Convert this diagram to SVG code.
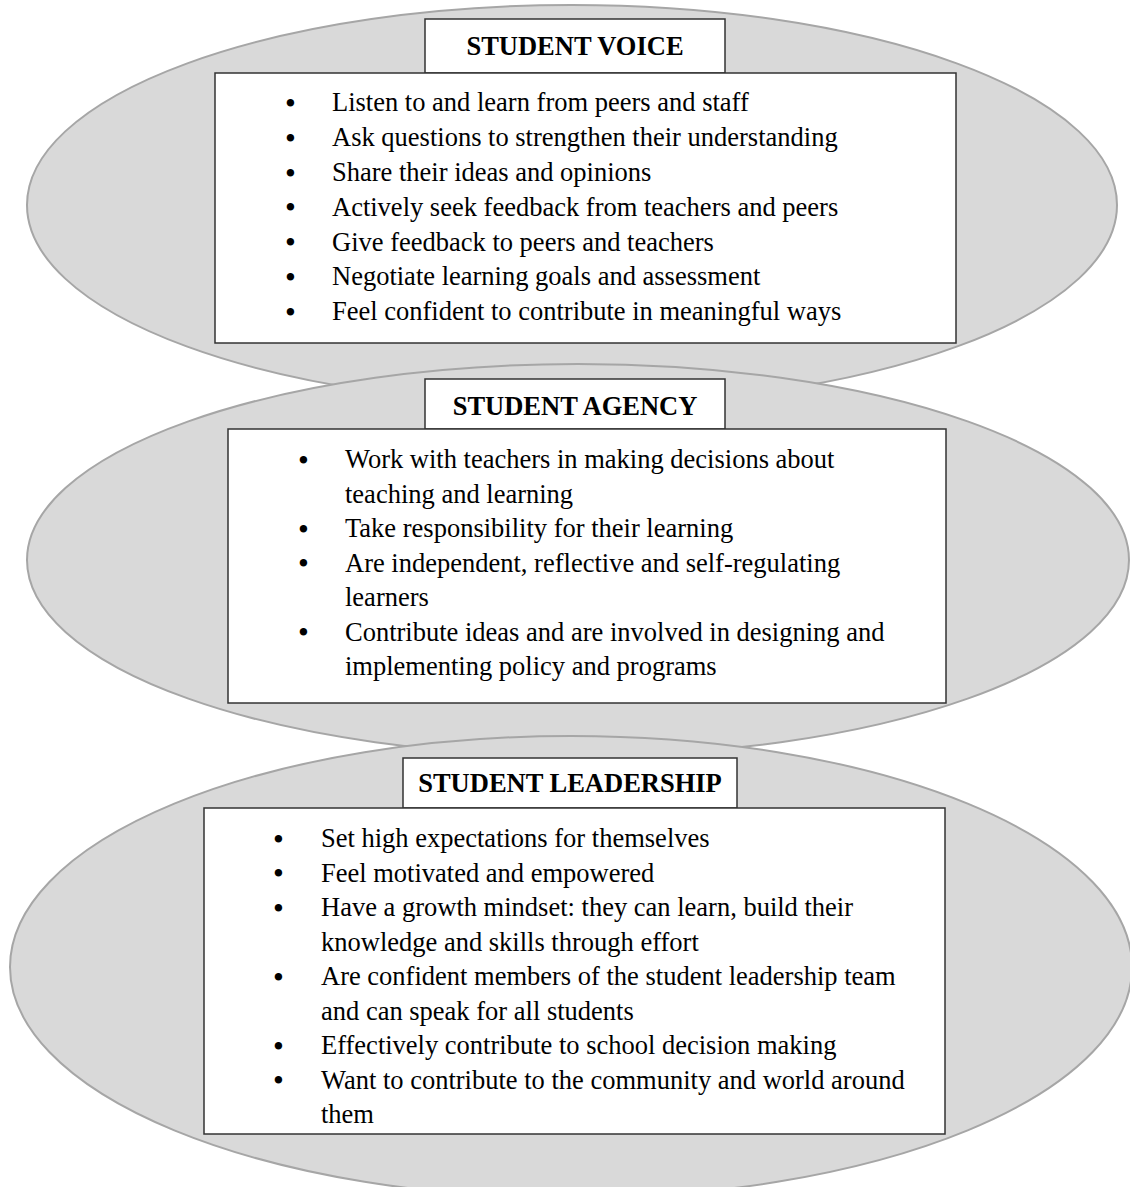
<svg xmlns="http://www.w3.org/2000/svg" width="1130" height="1187" viewBox="0 0 1130 1187">
<style>
.ell{fill:#d9d9d9;stroke:#a6a6a6;stroke-width:2}
.box{fill:#ffffff;stroke:#333333;stroke-width:1.5}
.title{font-family:"Liberation Serif","Times New Roman",serif;font-size:26.5px;font-weight:bold;fill:#000;text-anchor:middle}
.txt{font-family:"Liberation Serif","Times New Roman",serif;font-size:26.5px;fill:#000}
.bul{font-size:31px}
</style>
<rect x="0" y="0" width="1130" height="1187" fill="#ffffff"/>
<g id="voice">
<ellipse class="ell" cx="572" cy="205" rx="545" ry="200"/>
<rect class="box" x="425" y="19" width="300" height="54"/>
<text class="title" x="575" y="55">STUDENT VOICE</text>
<rect class="box" x="215" y="73" width="741" height="270"/>
<g class="txt">
<text><tspan class="bul" x="285" y="113.5">•</tspan><tspan x="332" y="111">Listen to and learn from peers and staff</tspan></text>
<text><tspan class="bul" x="285" y="148.5">•</tspan><tspan x="332" y="146">Ask questions to strengthen their understanding</tspan></text>
<text><tspan class="bul" x="285" y="183.5">•</tspan><tspan x="332" y="181">Share their ideas and opinions</tspan></text>
<text><tspan class="bul" x="285" y="218">•</tspan><tspan x="332" y="215.5">Actively seek feedback from teachers and peers</tspan></text>
<text><tspan class="bul" x="285" y="253">•</tspan><tspan x="332" y="250.5">Give feedback to peers and teachers</tspan></text>
<text><tspan class="bul" x="285" y="287.5">•</tspan><tspan x="332" y="285">Negotiate learning goals and assessment</tspan></text>
<text><tspan class="bul" x="285" y="322.5">•</tspan><tspan x="332" y="320">Feel confident to contribute in meaningful ways</tspan></text>
</g>
</g>
<g id="agency">
<ellipse class="ell" cx="578" cy="560" rx="551" ry="196"/>
<rect class="box" x="425" y="379" width="300" height="50"/>
<text class="title" x="575" y="415">STUDENT AGENCY</text>
<rect class="box" x="228" y="429" width="718" height="274"/>
<g class="txt">
<text><tspan class="bul" x="298" y="470.5">•</tspan><tspan x="345" y="468">Work with teachers in making decisions about</tspan></text>
<text x="345" y="502.5">teaching and learning</text>
<text><tspan class="bul" x="298" y="539.5">•</tspan><tspan x="345" y="537">Take responsibility for their learning</tspan></text>
<text><tspan class="bul" x="298" y="574">•</tspan><tspan x="345" y="571.5">Are independent, reflective and self-regulating</tspan></text>
<text x="345" y="606">learners</text>
<text><tspan class="bul" x="298" y="643">•</tspan><tspan x="345" y="640.5">Contribute ideas and are involved in designing and</tspan></text>
<text x="345" y="675">implementing policy and programs</text>
</g>
</g>
<g id="leadership">
<ellipse class="ell" cx="571" cy="967" rx="561" ry="231"/>
<rect class="box" x="403" y="758" width="334" height="50"/>
<text class="title" x="570" y="792">STUDENT LEADERSHIP</text>
<rect class="box" x="204" y="808" width="741" height="326"/>
<g class="txt">
<text><tspan class="bul" x="273" y="849.5">•</tspan><tspan x="321" y="847">Set high expectations for themselves</tspan></text>
<text><tspan class="bul" x="273" y="884">•</tspan><tspan x="321" y="881.5">Feel motivated and empowered</tspan></text>
<text><tspan class="bul" x="273" y="918.5">•</tspan><tspan x="321" y="916">Have a growth mindset: they can learn, build their</tspan></text>
<text x="321" y="950.5">knowledge and skills through effort</text>
<text><tspan class="bul" x="273" y="987.5">•</tspan><tspan x="321" y="985">Are confident members of the student leadership team</tspan></text>
<text x="321" y="1019.5">and can speak for all students</text>
<text><tspan class="bul" x="273" y="1056.5">•</tspan><tspan x="321" y="1054">Effectively contribute to school decision making</tspan></text>
<text><tspan class="bul" x="273" y="1091">•</tspan><tspan x="321" y="1088.5">Want to contribute to the community and world around</tspan></text>
<text x="321" y="1123">them</text>
</g>
</g>
<g id="connectors"></g>
</svg>
